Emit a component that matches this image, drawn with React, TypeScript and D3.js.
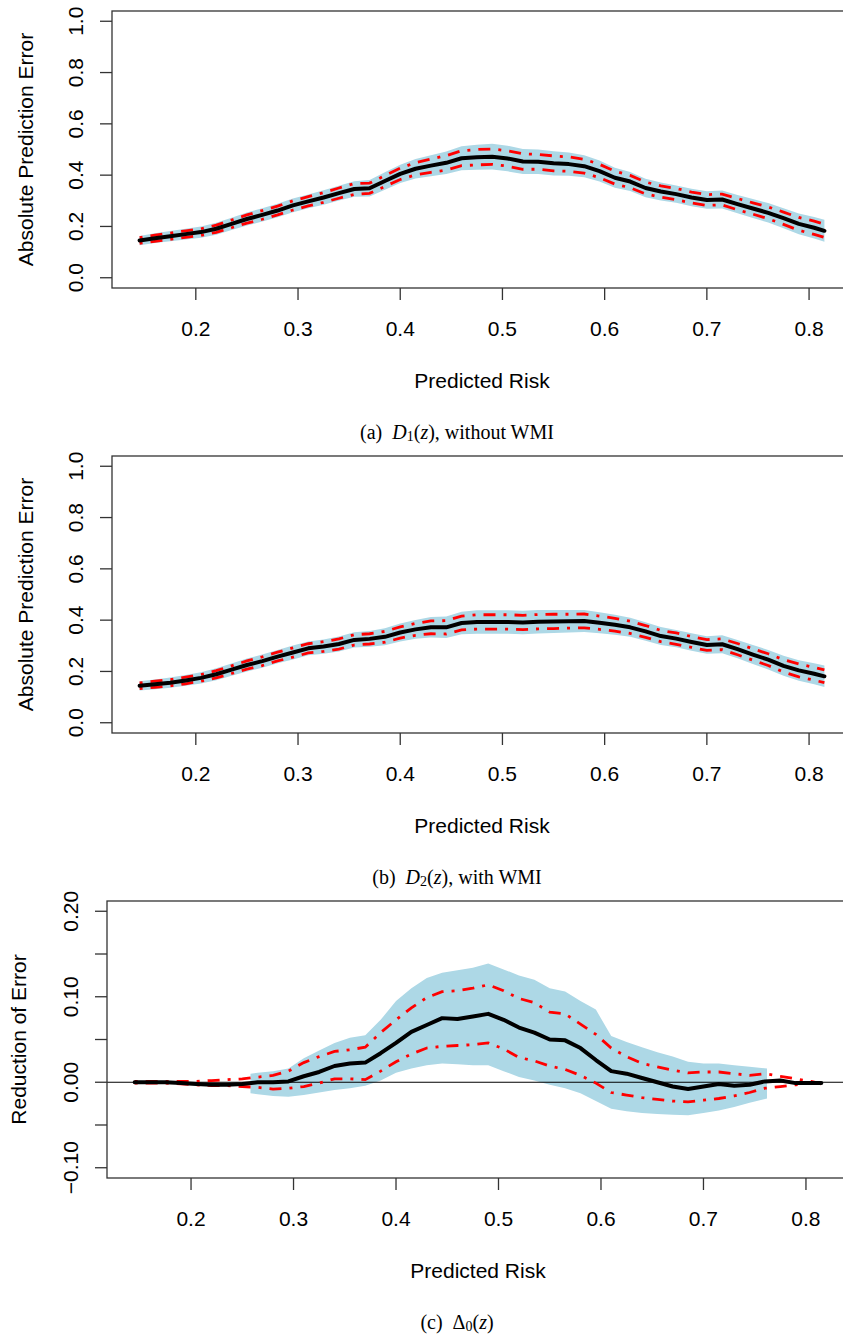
import React from "react";
import * as d3 from "d3";

// ---------- data ----------
const riskGrid = [0.145,0.16,0.175,0.19,0.205,0.22,0.235,0.25,0.265,0.28,0.295,0.31,0.325,0.34,0.355,0.37,0.385,0.4,0.415,0.43,0.445,0.46,0.475,0.49,0.505,0.52,0.535,0.55,0.565,0.58,0.595,0.61,0.625,0.64,0.655,0.67,0.685,0.7,0.715,0.73,0.745,0.76,0.775,0.79,0.805,0.815];

// Panel (a): D1(z), without WMI
const d1Mean = [0.145,0.154,0.162,0.170,0.178,0.191,0.210,0.229,0.245,0.262,0.282,0.298,0.313,0.330,0.346,0.349,0.377,0.405,0.425,0.437,0.448,0.466,0.470,0.472,0.465,0.453,0.452,0.446,0.443,0.435,0.416,0.390,0.375,0.350,0.336,0.326,0.313,0.303,0.305,0.287,0.270,0.253,0.232,0.210,0.195,0.183];
const d1RedHalf = [0.011,0.012,0.012,0.013,0.013,0.014,0.015,0.016,0.017,0.017,0.018,0.018,0.019,0.020,0.021,0.020,0.021,0.022,0.024,0.026,0.028,0.029,0.030,0.030,0.030,0.030,0.029,0.029,0.028,0.027,0.026,0.025,0.024,0.023,0.022,0.022,0.021,0.021,0.021,0.022,0.022,0.023,0.024,0.025,0.026,0.026];
const d1BlueHalf = [0.018,0.019,0.020,0.021,0.022,0.023,0.024,0.025,0.026,0.026,0.027,0.027,0.028,0.029,0.030,0.032,0.034,0.036,0.038,0.041,0.044,0.047,0.049,0.050,0.050,0.049,0.048,0.047,0.045,0.043,0.041,0.039,0.037,0.036,0.035,0.034,0.034,0.034,0.035,0.036,0.037,0.038,0.039,0.040,0.042,0.043];

// Panel (b): D2(z), with WMI
const d2Mean = [0.144,0.150,0.156,0.165,0.175,0.189,0.207,0.225,0.240,0.258,0.274,0.290,0.297,0.307,0.323,0.327,0.335,0.352,0.364,0.372,0.372,0.389,0.393,0.393,0.393,0.391,0.394,0.395,0.396,0.397,0.390,0.382,0.372,0.356,0.338,0.328,0.315,0.303,0.306,0.287,0.266,0.246,0.222,0.204,0.191,0.181];
const d2RedHalf = [0.011,0.012,0.012,0.013,0.013,0.014,0.015,0.016,0.017,0.017,0.018,0.018,0.019,0.020,0.020,0.020,0.021,0.022,0.023,0.025,0.026,0.027,0.028,0.028,0.028,0.028,0.028,0.028,0.027,0.027,0.026,0.025,0.024,0.023,0.022,0.022,0.021,0.021,0.021,0.022,0.022,0.023,0.024,0.025,0.025,0.025];
const d2BlueHalf = [0.018,0.019,0.020,0.021,0.022,0.023,0.024,0.025,0.026,0.026,0.027,0.027,0.028,0.029,0.030,0.031,0.033,0.035,0.037,0.040,0.042,0.044,0.046,0.046,0.046,0.046,0.046,0.045,0.044,0.043,0.041,0.039,0.037,0.036,0.035,0.034,0.034,0.034,0.035,0.036,0.037,0.038,0.039,0.040,0.041,0.042];

// Panel (c): Delta0(z)
const deltaMean = [0.000,0.000,0.000,-0.001,-0.002,-0.003,-0.003,-0.002,0.000,0.000,0.001,0.007,0.012,0.019,0.022,0.023,0.034,0.046,0.059,0.067,0.075,0.074,0.077,0.080,0.073,0.064,0.058,0.050,0.049,0.040,0.026,0.013,0.010,0.005,0.000,-0.005,-0.008,-0.005,-0.002,-0.004,-0.003,0.001,0.002,-0.001,-0.001,-0.001];
const deltaRedHi = [0.001,0.001,0.001,0.001,0.001,0.002,0.003,0.004,0.006,0.008,0.013,0.023,0.030,0.036,0.038,0.041,0.058,0.073,0.087,0.099,0.106,0.107,0.110,0.114,0.107,0.098,0.093,0.082,0.080,0.068,0.056,0.040,0.030,0.022,0.018,0.014,0.011,0.012,0.012,0.010,0.008,0.010,0.007,0.004,0.001,-0.002];
const deltaRedLo = [-0.001,-0.001,-0.001,-0.002,-0.003,-0.004,-0.004,-0.005,-0.006,-0.008,-0.007,-0.005,-0.001,0.004,0.004,0.003,0.013,0.024,0.033,0.040,0.042,0.043,0.044,0.046,0.039,0.029,0.025,0.019,0.015,0.008,-0.001,-0.012,-0.015,-0.018,-0.020,-0.022,-0.023,-0.021,-0.019,-0.016,-0.012,-0.007,-0.005,-0.003,-0.001,0.000];
const deltaBandX = [0.258,0.265,0.28,0.295,0.31,0.325,0.34,0.355,0.37,0.385,0.4,0.415,0.43,0.445,0.46,0.475,0.49,0.505,0.52,0.535,0.55,0.565,0.58,0.595,0.61,0.625,0.64,0.655,0.67,0.685,0.7,0.715,0.73,0.745,0.762];
const deltaBandHi = [0.010,0.011,0.013,0.016,0.028,0.037,0.046,0.052,0.055,0.073,0.095,0.110,0.122,0.128,0.131,0.134,0.139,0.132,0.125,0.120,0.110,0.106,0.095,0.085,0.054,0.047,0.041,0.035,0.030,0.024,0.022,0.022,0.020,0.018,0.016];
const deltaBandLo = [-0.013,-0.014,-0.016,-0.017,-0.015,-0.012,-0.009,-0.007,-0.004,0.002,0.011,0.016,0.020,0.022,0.021,0.020,0.020,0.013,0.006,0.002,-0.003,-0.007,-0.013,-0.022,-0.031,-0.034,-0.036,-0.037,-0.038,-0.0385,-0.036,-0.033,-0.029,-0.024,-0.019];

const xTicks = [0.2, 0.3, 0.4, 0.5, 0.6, 0.7, 0.8];
const errTicks = [0, 0.2, 0.4, 0.6, 0.8, 1.0];
const deltaTicks = [-0.1, -0.05, 0, 0.05, 0.1, 0.15, 0.2];
const deltaLabeled = [-0.1, 0, 0.1, 0.2];

// ---------- drawing ----------
const SANS = "'Liberation Sans', Arial, Helvetica, sans-serif";
const SERIF = "'Liberation Serif', 'Times New Roman', serif";
const FS = 21;

type Pt = { x: number; y: number };
type BandPt = { x: number; lo: number; hi: number };

interface PanelProps {
  left: number; right: number; top: number; bottom: number;
  yDomain: [number, number];
  yTicks: number[];
  yLabeled: number[];
  yFmt: (v: number) => string;
  yTickLabelX: number;
  yTitleX: number;
  yTitle: string;
  band: BandPt[];
  redHi: Pt[];
  redLo: Pt[];
  mean: Pt[];
  zeroLine?: boolean;
  caption: React.ReactNode;
}

function Panel(p: PanelProps) {
  const x = d3.scaleLinear().domain([0.118, 0.842]).range([p.left, p.right]);
  const y = d3.scaleLinear().domain(p.yDomain).range([p.bottom, p.top]);
  const line = d3.line<Pt>().x(d => x(d.x)).y(d => y(d.y));
  const area = d3.area<BandPt>().x(d => x(d.x)).y0(d => y(d.lo)).y1(d => y(d.hi));
  const tickLen = 12;
  const xLabY = p.bottom + 40;
  const xTitleY = p.bottom + 92;
  const capY = p.bottom + 144;
  const midX = (p.left + p.right) / 2;
  const midY = (p.top + p.bottom) / 2;
  return (
    <g>
      <path d={area(p.band) || ""} fill="#ADD8E6" stroke="none" />
      {p.zeroLine && (
        <line x1={p.left} x2={p.right} y1={y(0)} y2={y(0)} stroke="#000" strokeWidth={1.2} />
      )}
      <path d={line(p.redHi) || ""} fill="none" stroke="#FF0000" strokeWidth={2.8} strokeDasharray="3 8 12 8" />
      <path d={line(p.redLo) || ""} fill="none" stroke="#FF0000" strokeWidth={2.8} strokeDasharray="3 8 12 8" />
      <path d={line(p.mean) || ""} fill="none" stroke="#000" strokeWidth={4} strokeLinejoin="round" strokeLinecap="round" />
      <rect x={p.left} y={p.top} width={p.right - p.left} height={p.bottom - p.top} fill="none" stroke="#333" strokeWidth={1.3} />
      {xTicks.map(t => (
        <g key={"xt" + t}>
          <line x1={x(t)} x2={x(t)} y1={p.bottom} y2={p.bottom + tickLen} stroke="#333" strokeWidth={1.3} />
          <text x={x(t)} y={xLabY} textAnchor="middle" dominantBaseline="central" fontFamily={SANS} fontSize={FS} fill="#000">{t.toFixed(1)}</text>
        </g>
      ))}
      {p.yTicks.map(t => (
        <line key={"yt" + t} x1={p.left - tickLen} x2={p.left} y1={y(t)} y2={y(t)} stroke="#333" strokeWidth={1.3} />
      ))}
      {p.yLabeled.map(t => (
        <text key={"yl" + t} transform={`translate(${p.yTickLabelX},${y(t)}) rotate(-90)`} textAnchor="middle" dominantBaseline="central" fontFamily={SANS} fontSize={FS} fill="#000">{p.yFmt(t)}</text>
      ))}
      <text x={midX} y={xTitleY} textAnchor="middle" dominantBaseline="central" fontFamily={SANS} fontSize={FS} fill="#000">Predicted Risk</text>
      <text transform={`translate(${p.yTitleX},${midY}) rotate(-90)`} textAnchor="middle" dominantBaseline="central" fontFamily={SANS} fontSize={FS} fill="#000">{p.yTitle}</text>
      <text x={457} y={capY} textAnchor="middle" dominantBaseline="central" fontFamily={SERIF} fontSize={20} fill="#000">{p.caption}</text>
    </g>
  );
}

function zipPts(xs: number[], ys: number[]): Pt[] {
  return xs.map((v, i) => ({ x: v, y: ys[i] }));
}

export default function App() {
  const fmt1 = (v: number) => v.toFixed(1);
  const fmtD = (v: number) => (v < 0 ? "\u2212" + Math.abs(v).toFixed(2) : v.toFixed(2));

  const band1 = riskGrid.map((v, i) => ({ x: v, lo: d1Mean[i] - d1BlueHalf[i], hi: d1Mean[i] + d1BlueHalf[i] }));
  const band2 = riskGrid.map((v, i) => ({ x: v, lo: d2Mean[i] - d2BlueHalf[i], hi: d2Mean[i] + d2BlueHalf[i] }));
  const band3 = deltaBandX.map((v, i) => ({ x: v, lo: deltaBandLo[i], hi: deltaBandHi[i] }));

  return (
    <svg width={843} height={1336} style={{ position: "absolute", left: 0, top: 0, background: "#fff" }}>
      <rect x={0} y={0} width={843} height={1336} fill="#fff" />
      <Panel
        left={112} right={852} top={11} bottom={288}
        yDomain={[-0.04, 1.04]} yTicks={errTicks} yLabeled={errTicks} yFmt={fmt1}
        yTickLabelX={75} yTitleX={25} yTitle="Absolute Prediction Error"
        band={band1}
        redHi={riskGrid.map((v, i) => ({ x: v, y: d1Mean[i] + d1RedHalf[i] }))}
        redLo={riskGrid.map((v, i) => ({ x: v, y: d1Mean[i] - d1RedHalf[i] }))}
        mean={zipPts(riskGrid, d1Mean)}
        caption={<>(a)&#160;&#160;<tspan fontStyle="italic">D</tspan><tspan fontSize={14} dy={4}>1</tspan><tspan dy={-4}>(</tspan><tspan fontStyle="italic">z</tspan>), without WMI</>}
      />
      <Panel
        left={112} right={852} top={456} bottom={733}
        yDomain={[-0.04, 1.04]} yTicks={errTicks} yLabeled={errTicks} yFmt={fmt1}
        yTickLabelX={75} yTitleX={25} yTitle="Absolute Prediction Error"
        band={band2}
        redHi={riskGrid.map((v, i) => ({ x: v, y: d2Mean[i] + d2RedHalf[i] }))}
        redLo={riskGrid.map((v, i) => ({ x: v, y: d2Mean[i] - d2RedHalf[i] }))}
        mean={zipPts(riskGrid, d2Mean)}
        caption={<>(b)&#160;&#160;<tspan fontStyle="italic">D</tspan><tspan fontSize={14} dy={4}>2</tspan><tspan dy={-4}>(</tspan><tspan fontStyle="italic">z</tspan>), with WMI</>}
      />
      <Panel
        left={107} right={849} top={901} bottom={1178}
        yDomain={[-0.112, 0.212]} yTicks={deltaTicks} yLabeled={deltaLabeled} yFmt={fmtD}
        yTickLabelX={70} yTitleX={18} yTitle="Reduction of Error"
        band={band3}
        redHi={zipPts(riskGrid, deltaRedHi)}
        redLo={zipPts(riskGrid, deltaRedLo)}
        mean={zipPts(riskGrid, deltaMean)}
        zeroLine
        caption={<>(c)&#160;&#160;Δ<tspan fontSize={14} dy={4}>0</tspan><tspan dy={-4}>(</tspan><tspan fontStyle="italic">z</tspan>)</>}
      />
    </svg>
  );
}
